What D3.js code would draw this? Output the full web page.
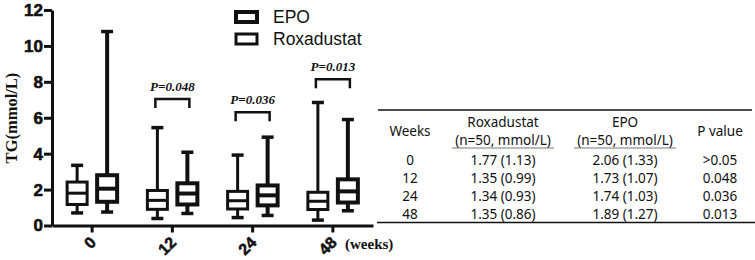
<!DOCTYPE html>
<html>
<head>
<meta charset="utf-8">
<script src="https://cdn.jsdelivr.net/npm/d3@7"></script>
<style>
    body { margin: 0; background: #fff; }
    svg { display: block; }
    .tbl text { font-family: "Noto Sans", "Noto Sans CJK SC", sans-serif; font-size: 13.5px; fill: #111; }
</style>
</head>
<body>
<div class="container"></div>
<script>
var weeks = ['0', '12', '24', '48'];
var seriesNames = ['Roxadustat', 'EPO'];

// box plot values: min, q1, median, q3, max for each week
var roxMin = [0.70, 0.39, 0.44, 0.30];
var roxQ1 = [1.17, 0.90, 0.92, 0.89];
var roxMed = [1.80, 1.40, 1.38, 1.35];
var roxQ3 = [2.42, 1.95, 1.90, 1.85];
var roxMax = [3.35, 5.45, 3.92, 6.85];

var epoMin = [0.75, 0.67, 0.56, 0.82];
var epoQ1 = [1.32, 1.17, 1.12, 1.28];
var epoMed = [2.05, 1.78, 1.68, 1.90];
var epoQ3 = [2.80, 2.35, 2.23, 2.57];
var epoMax = [10.80, 4.08, 4.92, 5.90];

var yTicks = [0, 2, 4, 6, 8, 10, 12];

// significance brackets
var sigWeeks = ['12', '24', '48'];
var sigLabels = ['P=0.048', 'P=0.036', 'P=0.013'];
var sigLevel = [7.05, 6.3, 8.15];

// table
var tableHeader = ['Weeks', 'Roxadustat', 'EPO', 'P value'];
var tableRox = ['1.77 (1.13)', '1.35 (0.99)', '1.34 (0.93)', '1.35 (0.86)'];
var tableEpo = ['2.06 (1.33)', '1.73 (1.07)', '1.74 (1.03)', '1.89 (1.27)'];
var tableP = ['>0.05', '0.048', '0.036', '0.013'];

var WIDTH = 755, HEIGHT = 260;
var svg = d3.select('.container').append('svg')
    .attr('width', WIDTH)
    .attr('height', HEIGHT);

var xScale = d3.scaleBand().domain(weeks).range([52, 373]);
var yScale = d3.scaleLinear().domain([0, 12]).range([225.5, 10]);

var boxData = function (name) {
    return weeks.map(function (w, i) {
        if (name === 'EPO') {
            return {week: w, min: epoMin[i], q1: epoQ1[i], med: epoMed[i], q3: epoQ3[i], max: epoMax[i]};
        }
        return {week: w, min: roxMin[i], q1: roxQ1[i], med: roxMed[i], q3: roxQ3[i], max: roxMax[i]};
    });
};

var drawBoxes = function (name, offset, sw) {
    var cx = function (d) { return xScale(d.week) + xScale.bandwidth() / 2 + offset; };
    var g = svg.append('g')
        .attr('fill', 'none')
        .attr('stroke', '#111')
        .attr('stroke-width', sw);
    var boxes = g.selectAll('g').data(boxData(name)).enter().append('g');
    boxes.append('line')
        .attr('x1', cx).attr('x2', cx)
        .attr('y1', function (d) { return yScale(d.max); })
        .attr('y2', function (d) { return yScale(d.min); });
    boxes.append('rect')
        .attr('x', function (d) { return cx(d) - 10; })
        .attr('width', 20)
        .attr('y', function (d) { return yScale(d.q3); })
        .attr('height', function (d) { return yScale(d.q1) - yScale(d.q3); })
        .attr('fill', '#fff');
    boxes.append('line')
        .attr('x1', function (d) { return cx(d) - 10; })
        .attr('x2', function (d) { return cx(d) + 10; })
        .attr('y1', function (d) { return yScale(d.med); })
        .attr('y2', function (d) { return yScale(d.med); });
    ['min', 'max'].forEach(function (k) {
        boxes.append('line')
            .attr('x1', function (d) { return cx(d) - 6; })
            .attr('x2', function (d) { return cx(d) + 6; })
            .attr('y1', function (d) { return yScale(d[k]); })
            .attr('y2', function (d) { return yScale(d[k]); })
            .attr('stroke-width', 3.5);
    });
};

drawBoxes('Roxadustat', -15, 3);
drawBoxes('EPO', 15, 4);

// y axis
var yAxis = svg.append('g')
    .attr('transform', 'translate(52,0)')
    .call(d3.axisLeft(yScale).tickValues(yTicks).tickSize(8).tickPadding(1).tickSizeOuter(0));
yAxis.select('.domain').attr('stroke-width', 3).attr('stroke', '#111');
yAxis.selectAll('.tick line').attr('stroke-width', 3).attr('stroke', '#111');
yAxis.selectAll('.tick text')
    .attr('fill', '#111')
    .attr('stroke', '#111').attr('stroke-width', 0.6)
    .style('font', 'bold 17px "Liberation Sans", Arial, sans-serif');

// x axis
var xAxis = svg.append('g')
    .attr('transform', 'translate(0,225.5)')
    .call(d3.axisBottom(xScale).tickSize(7).tickSizeOuter(0));
xAxis.select('.domain').attr('stroke-width', 3).attr('stroke', '#111');
xAxis.selectAll('.tick line').attr('stroke-width', 3).attr('stroke', '#111');
xAxis.selectAll('.tick text')
    .attr('fill', '#111')
    .attr('stroke', '#111').attr('stroke-width', 0.5)
    .attr('y', 0).attr('dy', '0.35em')
    .attr('text-anchor', 'end')
    .attr('transform', 'translate(1,14) rotate(-45)')
    .style('font', 'bold 16px "Liberation Sans", Arial, sans-serif');

svg.append('text')
    .attr('x', 345).attr('y', 249)
    .style('font', 'bold 15px "Liberation Serif", "Times New Roman", serif')
    .attr('fill', '#111')
    .text('(weeks)');

svg.append('text')
    .attr('transform', 'translate(17,118) rotate(-90)')
    .attr('text-anchor', 'middle')
    .style('font', 'bold 16.5px "Liberation Serif", "Times New Roman", serif')
    .attr('fill', '#111')
    .text('TG(mmol/L)');

// significance brackets
var sig = svg.append('g').selectAll('g')
    .data(sigWeeks).enter().append('g');
sig.append('path')
    .attr('fill', 'none').attr('stroke', '#111').attr('stroke-width', 2.5)
    .attr('d', function (d, i) {
        var c = xScale(d) + xScale.bandwidth() / 2;
        var y = yScale(sigLevel[i]);
        return 'M' + (c - 17) + ',' + (y + 9) + 'V' + y + 'H' + (c + 17) + 'V' + (y + 9);
    });
sig.append('text')
    .attr('x', function (d) { return xScale(d) + xScale.bandwidth() / 2; })
    .attr('y', function (d, i) { return yScale(sigLevel[i]) - 8; })
    .attr('text-anchor', 'middle')
    .style('font', 'italic bold 13px "Liberation Serif", "Times New Roman", serif')
    .attr('fill', '#111')
    .text(function (d, i) { return sigLabels[i]; });

// legend (EPO first, as in the figure)
var legend = svg.append('g').selectAll('g')
    .data(['EPO', 'Roxadustat']).enter().append('g')
    .attr('transform', function (d, i) { return 'translate(236,' + (12 + i * 22) + ')'; });
legend.append('rect')
    .attr('width', 21).attr('height', 10)
    .attr('fill', 'none').attr('stroke', '#111')
    .attr('stroke-width', function (d) { return d === 'EPO' ? 4 : 3; });
legend.append('text')
    .attr('x', 37).attr('y', 5).attr('dy', '0.35em')
    .style('font', '17.5px "Liberation Sans", Arial, sans-serif')
    .attr('fill', '#111')
    .text(function (d) { return d; });

// table
var tbl = svg.append('g').attr('class', 'tbl');
var colX = [410, 503, 625, 720];
var rowY = [160, 178, 196, 214];
tbl.append('line').attr('x1', 378).attr('x2', 752).attr('y1', 110).attr('y2', 110)
    .attr('stroke', '#111').attr('stroke-width', 1.5);
tbl.append('line').attr('x1', 377).attr('x2', 755).attr('y1', 222.5).attr('y2', 222.5)
    .attr('stroke', '#111').attr('stroke-width', 1.5);
tbl.selectAll('.hdr').data(tableHeader).enter().append('text')
    .attr('class', 'hdr')
    .attr('x', function (d, i) { return colX[i]; })
    .attr('y', function (d, i) { return (i === 1 || i === 2) ? 122 : 131; })
    .attr('dy', '0.35em')
    .attr('text-anchor', 'middle')
    .text(function (d) { return d; });
[1, 2].forEach(function (i) {
    tbl.append('text')
        .attr('x', colX[i]).attr('y', 140).attr('dy', '0.35em')
        .attr('text-anchor', 'middle')
        .text('(n=50, mmol/L)');
    tbl.append('line')
        .attr('x1', colX[i] - 51).attr('x2', colX[i] + 51)
        .attr('y1', 148).attr('y2', 148)
        .attr('stroke', '#555').attr('stroke-width', 0.8);
});
var cols = [weeks, tableRox, tableEpo, tableP];
cols.forEach(function (col, ci) {
    tbl.selectAll('.c' + ci).data(col).enter().append('text')
        .attr('class', 'c' + ci)
        .attr('x', colX[ci])
        .attr('y', function (d, i) { return rowY[i]; })
        .attr('dy', '0.35em')
        .attr('text-anchor', 'middle')
        .text(function (d) { return d; });
});
</script>
</body>
</html>
